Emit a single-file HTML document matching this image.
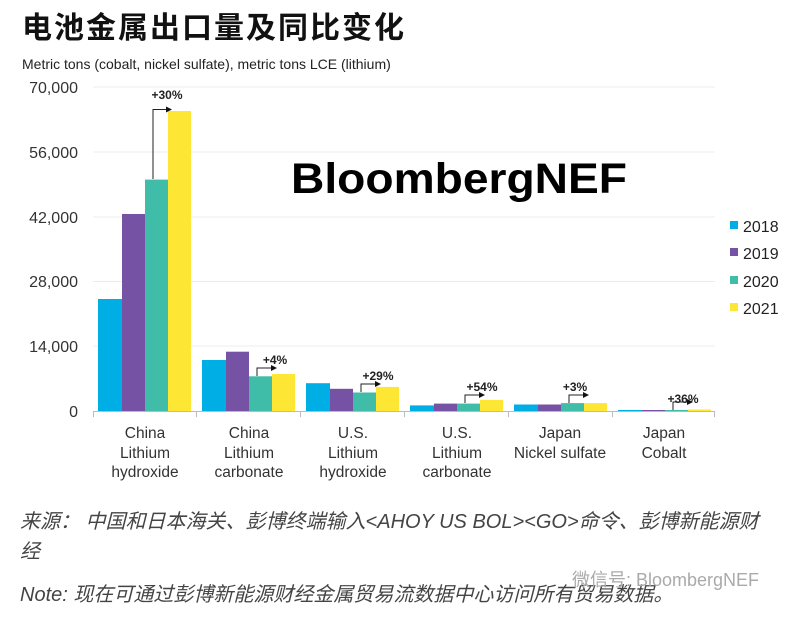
<!DOCTYPE html>
<html><head><meta charset="utf-8"><style>
html,body{margin:0;padding:0;background:#fff;}
body{width:800px;height:618px;overflow:hidden;position:relative;font-family:"Liberation Sans","Noto Sans CJK SC",sans-serif;}
.t{position:absolute;left:22px;top:3px;font-size:30px;font-weight:bold;color:#111;letter-spacing:2px;white-space:nowrap;}
.f{position:absolute;left:20px;font-size:20px;font-style:italic;color:#444;white-space:nowrap;font-family:"Liberation Sans","Noto Sans CJK SC",sans-serif;}
</style></head><body>
<div class="t">电池金属出口量及同比变化</div>
<svg width="800" height="618" style="position:absolute;left:0;top:0" font-family="Liberation Sans, sans-serif">
<text x="22" y="69" font-size="14" fill="#222">Metric tons (cobalt, nickel sulfate), metric tons LCE (lithium)</text>
<g stroke="#ececec" stroke-width="1">
<line x1="93" x2="715" y1="87" y2="87"/><line x1="93" x2="715" y1="152" y2="152"/>
<line x1="93" x2="715" y1="217" y2="217"/><line x1="93" x2="715" y1="281.5" y2="281.5"/>
<line x1="93" x2="715" y1="346" y2="346"/>
</g>
<g font-size="16" fill="#333" text-anchor="end">
<text x="78" y="93">70,000</text><text x="78" y="158">56,000</text><text x="78" y="223">42,000</text>
<text x="78" y="287">28,000</text><text x="78" y="352">14,000</text><text x="78" y="417">0</text>
</g>
<text x="291" y="193" font-size="43" font-weight="bold" fill="#000" textLength="336" lengthAdjust="spacingAndGlyphs">BloombergNEF</text>
<g>
<rect x="98" y="299" width="24" height="112" fill="#00aee6"/><rect x="122" y="214" width="23" height="197" fill="#7652a4"/><rect x="145" y="179.6" width="23" height="231.4" fill="#40bda8"/><rect x="168" y="111" width="23" height="300" fill="#fde634"/>
<rect x="202" y="360" width="24" height="51" fill="#00aee6"/><rect x="226" y="351.7" width="23" height="59.3" fill="#7652a4"/><rect x="249" y="376.3" width="23" height="34.7" fill="#40bda8"/><rect x="272" y="374" width="23" height="37" fill="#fde634"/>
<rect x="306" y="383.2" width="24" height="27.8" fill="#00aee6"/><rect x="330" y="388.8" width="23" height="22.2" fill="#7652a4"/><rect x="353" y="392.5" width="23" height="18.5" fill="#40bda8"/><rect x="376" y="386.9" width="23" height="24.1" fill="#fde634"/>
<rect x="410" y="405.4" width="24" height="5.6" fill="#00aee6"/><rect x="434" y="403.6" width="23" height="7.4" fill="#7652a4"/><rect x="457" y="403.6" width="23" height="7.4" fill="#40bda8"/><rect x="480" y="399.9" width="23" height="11.1" fill="#fde634"/>
<rect x="514" y="404.5" width="24" height="6.5" fill="#00aee6"/><rect x="538" y="404.5" width="23" height="6.5" fill="#7652a4"/><rect x="561" y="403.1" width="23" height="7.9" fill="#40bda8"/><rect x="584" y="403.1" width="23" height="7.9" fill="#fde634"/>
<rect x="618" y="410" width="24" height="1" fill="#00aee6"/><rect x="642" y="410" width="23" height="1" fill="#7652a4"/><rect x="665" y="410" width="23" height="1" fill="#40bda8"/><rect x="688" y="409.5" width="23" height="1.5" fill="#fde634"/>
</g>
<g stroke="#bbb" stroke-width="1">
<line x1="93" x2="715" y1="411.5" y2="411.5"/>
<line x1="93.5" x2="93.5" y1="411" y2="417"/><line x1="196.5" x2="196.5" y1="411" y2="417"/><line x1="300.5" x2="300.5" y1="411" y2="417"/><line x1="404.5" x2="404.5" y1="411" y2="417"/><line x1="508.5" x2="508.5" y1="411" y2="417"/><line x1="612.5" x2="612.5" y1="411" y2="417"/><line x1="714.5" x2="714.5" y1="411" y2="417"/>
</g>
<defs><marker id="a" markerWidth="6" markerHeight="6" refX="5" refY="3" orient="auto"><path d="M0,0L6,3L0,6z" fill="#111"/></marker></defs>
<g stroke="#222" stroke-width="1" fill="none" marker-end="url(#a)">
<path d="M153,179V109.5H171"/>
<path d="M257,376V368H276"/>
<path d="M361,392V384H380"/>
<path d="M465,403V395H484"/>
<path d="M569,403V395H588"/>
<path d="M673,410V402H692"/>
</g>
<g font-size="12" font-weight="bold" fill="#222" text-anchor="middle">
<text x="167" y="99">+30%</text><text x="275" y="364">+4%</text><text x="378" y="380">+29%</text>
<text x="482" y="391">+54%</text><text x="575" y="391">+3%</text><text x="683" y="403">+36%</text>
</g>
<g font-size="15.5" fill="#333" text-anchor="middle">
<text x="145" y="438">China</text><text x="145" y="458">Lithium</text><text x="145" y="477">hydroxide</text>
<text x="249" y="438">China</text><text x="249" y="458">Lithium</text><text x="249" y="477">carbonate</text>
<text x="353" y="438">U.S.</text><text x="353" y="458">Lithium</text><text x="353" y="477">hydroxide</text>
<text x="457" y="438">U.S.</text><text x="457" y="458">Lithium</text><text x="457" y="477">carbonate</text>
<text x="560" y="438">Japan</text><text x="560" y="458">Nickel sulfate</text>
<text x="664" y="438">Japan</text><text x="664" y="458">Cobalt</text>
</g>
<g font-size="16" fill="#222">
<rect x="730" y="221" width="8" height="8" fill="#00aee6"/><text x="743" y="232">2018</text>
<rect x="730" y="248" width="8" height="8" fill="#7652a4"/><text x="743" y="259">2019</text>
<rect x="730" y="276" width="8" height="8" fill="#40bda8"/><text x="743" y="287">2020</text>
<rect x="730" y="303" width="8" height="8" fill="#fde634"/><text x="743" y="314">2021</text>
</g>
</svg>
<div class="f" style="top:505px">来源：&nbsp;中国和日本海关、彭博终端输入&lt;AHOY US BOL&gt;&lt;GO&gt;命令、彭博新能源财</div>
<div class="f" style="top:535px">经</div>
<div class="f" style="top:578px">Note: 现在可通过彭博新能源财经金属贸易流数据中心访问所有贸易数据。</div>
<div style="position:absolute;left:572px;top:566px;font-size:18px;color:#aaa;white-space:nowrap;font-family:'Liberation Sans','Noto Sans CJK SC',sans-serif;">微信号: BloombergNEF</div>
</body></html>
